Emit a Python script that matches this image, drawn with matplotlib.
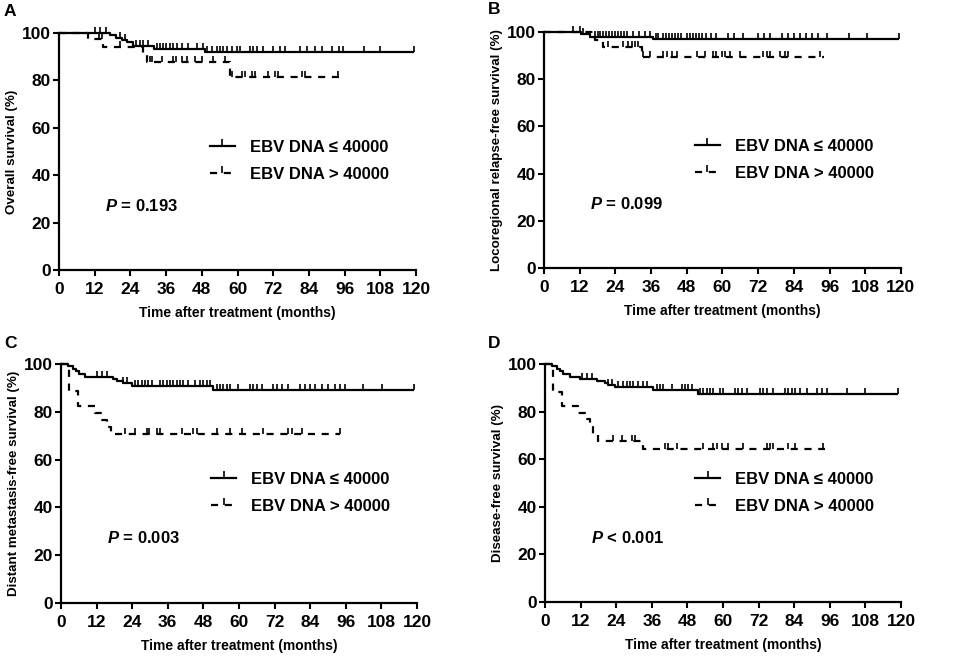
import numpy as np
import matplotlib
matplotlib.use('Agg')
import matplotlib.pyplot as plt
from matplotlib.lines import Line2D

plt.rcParams['font.family'] = ['Liberation Sans', 'DejaVu Sans']
plt.rcParams['font.weight'] = 'bold'
plt.rcParams['mathtext.fontset'] = 'custom'
plt.rcParams['mathtext.it'] = 'Liberation Sans:italic:bold'
plt.rcParams['mathtext.rm'] = 'Liberation Sans:bold'

#___________data________________________________________________________
xticks = [0, 12, 24, 36, 48, 60, 72, 84, 96, 108, 120]
yticks = [0, 20, 40, 60, 80, 100]
labels = ['EBV DNA \u2264 40000', 'EBV DNA > 40000']

# A: overall survival
a_lo_t = [0, 17, 19, 21, 23, 25, 32, 49]
a_lo_s = [100, 99, 98, 97, 96, 94.5, 93.4, 91.8]
a_lo_end = 119.2
a_lo_cens = [12.1, 13.7, 15.9, 20.4, 22.1, 26, 27.2, 28.3, 30, 32.8, 33.9, 35, 36.1, 37.3,
             38.4, 39.5, 41.2, 43.4, 46.3, 48.5, 49.6, 51.3, 53, 54.1, 55.2, 56.4, 58,
             59.7, 60.8, 64.2, 65.3, 66.5, 68.7, 72, 74.3, 76, 81, 83.3, 86.1, 88.3,
             91.7, 94, 95.6, 102.4, 108, 119.2]
a_hi_t = [0, 9.7, 14.8, 28.2, 29.6, 57.5]
a_hi_s = [100, 97.3, 94.2, 91.4, 87.6, 81.3]
a_hi_end = 94
a_hi_cens = [13.5, 14.5, 20.5, 30.6, 31.3, 34.5, 38.4, 39.2, 41.2, 42.9, 45.7, 48, 51.8,
             55.8, 58, 61.4, 62.5, 64.8, 65.9, 70.3, 72.6, 73.6, 81.7, 82.7, 93.8]
a_p = '$P$ = 0.193'

# B: locoregional relapse-free survival
b_lo_t = [0, 12.5, 15.5, 36.7]
b_lo_s = [100, 99, 98, 96.9]
b_lo_end = 119.2
b_lo_cens = [9.8, 12.1, 13.1, 17, 18, 19, 20, 21, 22, 23, 24, 25, 26, 27, 28, 30, 32, 34,
             35.5, 37.5, 38.5, 40, 41, 42, 43, 44, 45, 46, 48, 49, 50, 51, 52, 53, 54.5,
             56, 58, 62, 64, 67, 72, 74, 76, 80, 82, 84, 86, 88, 90, 92, 95, 102.5,
             108.5, 119.2]
b_hi_t = [0, 17.1, 19.9, 32.8]
b_hi_s = [100, 96.5, 93.5, 89.5]
b_hi_end = 94
b_hi_cens = [21.5, 26.6, 28.3, 29.6, 30.6, 31.6, 33.3, 35.6, 40, 41.3, 43, 44.6, 51.4, 54,
             56.8, 58, 59.8, 60.8, 62.5, 65.9, 73.6, 74.9, 76, 79.3, 81, 82, 92.8]
b_p = '$P$ = 0.099'

# C: distant metastasis-free survival
c_lo_t = [0, 2.5, 4.1, 5, 6, 8.1, 17.6, 19, 20.9, 23.8, 51.3]
c_lo_s = [100, 99, 98, 97, 96, 94.7, 93.8, 92.8, 92, 90.6, 89.1]
c_lo_end = 118.9
c_lo_cens = [12, 13.7, 15.4, 20.9, 22.1, 24.9, 26.1, 27.2, 28.3, 29.4, 30.6, 33.4, 34.5,
             35.6, 36.7, 37.9, 39, 40.1, 41.2, 42.9, 45.2, 46.9, 48, 49.1, 50.2, 52.5,
             53.6, 54.7, 55.8, 57, 59.8, 63.7, 64.8, 66, 67.6, 71.5, 72.7, 74.4, 76.6,
             80.6, 82.2, 83.9, 85.6, 87.9, 90.1, 92.3, 94, 95.7, 101.9, 108.1, 118.9]
c_hi_t = [0, 2.8, 5.8, 11.5, 14, 15.5, 17]
c_hi_s = [100, 88.5, 82.5, 79.5, 76.5, 73.5, 70.6]
c_hi_end = 94
c_hi_cens = [21.6, 25, 28.9, 29.8, 32.3, 33.4, 40.7, 44.6, 45.7, 52.5, 57, 60.9, 68.2,
             76.6, 77.8, 81.1, 94]
c_p = '$P$ = 0.003'

# D: disease-free survival
d_lo_t = [0, 2.5, 4, 5, 6, 8.4, 11.8, 17.4, 20.2, 21.3, 23.6, 36.5, 51.6]
d_lo_s = [100, 99, 98, 97, 96, 94.7, 93.8, 93, 92, 91, 90.2, 89, 87.2]
d_lo_end = 119.1
d_lo_cens = [12.4, 14, 15.7, 21.3, 22.5, 24.7, 26.4, 27.5, 28.6, 29.8, 31.4, 33.1, 34.3,
             37.6, 38.8, 39.9, 42.7, 46.1, 47.2, 48.3, 49.4, 52.2, 53.4, 54.5, 55.6, 56.7,
             59, 60.1, 64, 65.1, 66.3, 68, 72.5, 73.6, 74.7, 77, 80.9, 82, 83.2, 84.3, 86,
             88.2, 91.6, 93.3, 94.9, 101.7, 107.9, 119.1]
d_hi_t = [0, 2.6, 5.6, 11.2, 14, 15.2, 16.3, 18, 32.9]
d_hi_s = [100, 88.4, 82.3, 79.5, 77, 73.6, 70.5, 67.7, 64.1]
d_hi_end = 94.4
d_hi_cens = [23, 25.8, 29.2, 30.3, 40.4, 41.6, 44.4, 53.4, 56.7, 57.9, 59.6, 61.8, 66.8,
             74.7, 75.8, 76.9, 82, 84.3, 93.8]
d_p = '$P$ < 0.001'

DASH = (0, (3.2, 3.0))


#___________draw one km curve___________________________________________
def km(ax, t, s, end, cens, ls):
    tt = list(t) + [end]
    ss = list(s) + [s[-1]]
    ax.step(tt, ss, where='post', color='black', lw=1.6, ls=ls, clip_on=False,
            solid_capstyle='butt', dash_capstyle='butt')
    idx = np.searchsorted(np.array(t), np.array(cens), side='right') - 1
    ax.plot(cens, np.array(s)[idx], ls='none', marker=2, ms=4.5, mew=1.2,
            color='black', clip_on=False)


#___________one panel___________________________________________________
def panel(ax, lo, hi, ylab, ptext):
    km(ax, *lo, ls='-')
    km(ax, *hi, ls=DASH)
    ax.set_xlim(0, 120)
    ax.set_ylim(0, 100)
    ax.set_xticks(xticks)
    ax.set_yticks(yticks)
    for sp in ['top', 'right']:
        ax.spines[sp].set_visible(False)
    for sp in ['left', 'bottom']:
        ax.spines[sp].set_linewidth(1.6)
    ax.tick_params(direction='out', length=4.3, width=1.5, labelsize=12.5)
    ax.tick_params(axis='x', pad=4.5)
    ax.tick_params(axis='y', pad=1.5)
    ax.set_xlabel('Time after treatment (months)', fontsize=10, fontweight='bold', labelpad=6)
    ax.set_ylabel(ylab, fontsize=9.6, fontweight='bold', labelpad=3)
    h = [Line2D([], [], color='black', lw=1.6, marker=2, ms=5, mew=1.2),
         Line2D([], [], color='black', lw=1.6, ls=DASH, marker=2, ms=5, mew=1.2)]
    ax.legend(h, labels, loc='upper left', bbox_to_anchor=(0.422, 0.548), frameon=False,
              borderpad=0, borderaxespad=0, handlelength=1.5, handletextpad=0.9,
              labelspacing=0.72, numpoints=1, prop={'size': 12, 'weight': 'bold'})
    ax.text(0.128, 0.27, ptext, transform=ax.transAxes, fontsize=12, fontweight='bold',
            va='center', ha='left')


fig = plt.figure(figsize=(9.57, 6.56), dpi=100)
axA = fig.add_axes([0.0617, 0.5884, 0.373, 0.3613])
axB = fig.add_axes([0.5684, 0.5915, 0.373, 0.3597])
axC = fig.add_axes([0.0637, 0.0808, 0.372, 0.3643])
axD = fig.add_axes([0.5695, 0.0823, 0.372, 0.3628])

panel(axA, (a_lo_t, a_lo_s, a_lo_end, a_lo_cens), (a_hi_t, a_hi_s, a_hi_end, a_hi_cens),
      'Overall survival (%)', a_p)
panel(axB, (b_lo_t, b_lo_s, b_lo_end, b_lo_cens), (b_hi_t, b_hi_s, b_hi_end, b_hi_cens),
      'Locoregional relapse-free survival (%)', b_p)
panel(axC, (c_lo_t, c_lo_s, c_lo_end, c_lo_cens), (c_hi_t, c_hi_s, c_hi_end, c_hi_cens),
      'Distant metastasis-free survival (%)', c_p)
panel(axD, (d_lo_t, d_lo_s, d_lo_end, d_lo_cens), (d_hi_t, d_hi_s, d_hi_end, d_hi_cens),
      'Disease-free survival (%)', d_p)

for letter, x, y in [('A', 4, 11), ('B', 488, 10), ('C', 4, 343), ('D', 488, 343)]:
    fig.text(x / 957, 1 - y / 656, letter, fontsize=12.5, fontweight='bold', va='center', ha='left')

fig.savefig('out.png', dpi=100)
